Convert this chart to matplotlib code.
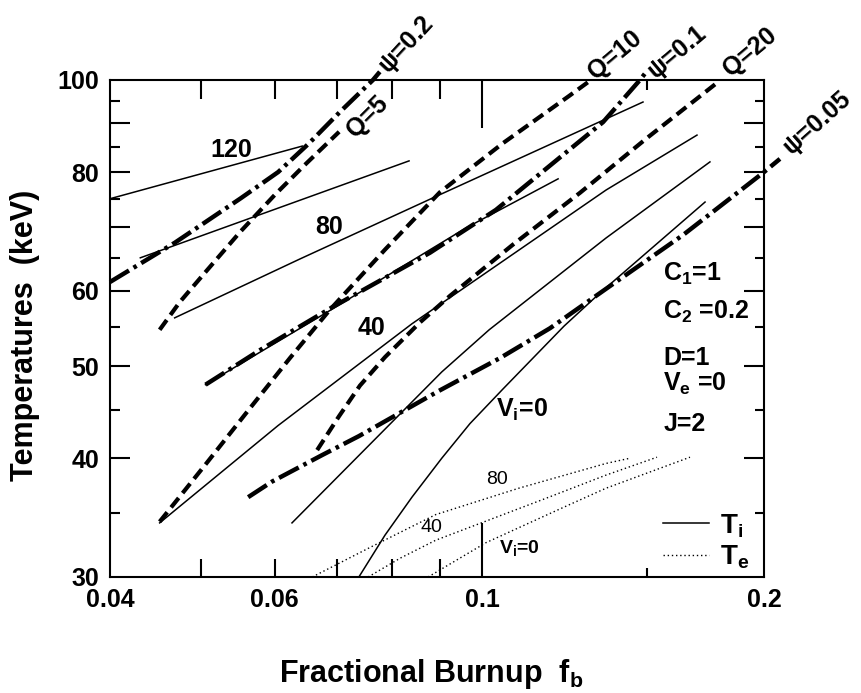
import matplotlib.pyplot as plt

plt.rcParams['font.family'] = ['Liberation Sans', 'DejaVu Sans']
plt.rcParams['font.weight'] = 'bold'
plt.rcParams['axes.labelweight'] = 'bold'
plt.rcParams['mathtext.fontset'] = 'custom'
plt.rcParams['mathtext.rm'] = 'Liberation Sans:bold'
plt.rcParams['mathtext.bf'] = 'Liberation Sans:bold'
plt.rcParams['mathtext.it'] = 'Liberation Sans:bold'
plt.rcParams['mathtext.default'] = 'bf'

# ion temperature T_i, one curve per V_i
ti120_fb = [0.0400, 0.0642]
ti120_t = [75.0, 85.2]
ti100_fb = [0.0431, 0.0835]
ti100_t = [65.0, 82.2]
ti80_fb = [0.0469, 0.0638, 0.0905, 0.1485]
ti80_t = [56.2, 64.8, 75.9, 94.8]
ti60_fb = [0.0506, 0.0687, 0.0961, 0.1205]
ti60_t = [47.8, 57.2, 69.9, 78.7]
ti40_fb = [0.0452, 0.0605, 0.0841, 0.1356, 0.1696]
ti40_t = [34.2, 43.3, 55.4, 76.6, 87.5]
ti20_fb = [0.0626, 0.0905, 0.1017, 0.1356, 0.1751]
ti20_t = [34.2, 49.3, 54.6, 68.2, 82.0]
ti0_fb = [0.0738, 0.0787, 0.0841, 0.0905, 0.0970, 0.1052, 0.1223, 0.1336, 0.1730]
ti0_t = [30.0, 33.2, 36.4, 40.0, 43.5, 47.3, 55.1, 59.7, 74.4]

# electron temperature T_e
te80_fb = [0.0658, 0.0762, 0.0892, 0.1094, 0.1356, 0.1438]
te80_t = [30.0, 32.3, 34.9, 37.2, 39.5, 40.0]
te40_fb = [0.0755, 0.0817, 0.0892, 0.1161, 0.1356, 0.1537]
te40_t = [30.0, 31.4, 32.8, 36.2, 38.4, 40.1]
te0_fb = [0.0875, 0.1009, 0.1220, 0.1356, 0.1667]
te0_t = [30.0, 32.6, 35.5, 37.2, 40.1]

# constant Q
q5_fb = [0.0452, 0.0475, 0.0506, 0.0551, 0.0600, 0.0646, 0.0703]
q5_t = [54.6, 58.4, 62.8, 69.2, 75.7, 81.4, 88.2]
q10_fb = [0.0452, 0.0506, 0.0565, 0.0623, 0.0686, 0.0787, 0.0901, 0.1052, 0.1238, 0.1303]
q10_t = [34.3, 39.4, 45.2, 51.0, 57.2, 66.3, 76.2, 85.8, 96.2, 99.8]
q20_fb = [0.0666, 0.0703, 0.0740, 0.0787, 0.0858, 0.0924, 0.1078, 0.1272, 0.1500, 0.1786]
q20_t = [40.8, 44.3, 47.7, 51.1, 55.6, 59.3, 67.1, 76.1, 86.9, 99.5]

# constant psi
psi02_fb = [0.0400, 0.0469, 0.0552, 0.0605, 0.0653, 0.0704, 0.0764, 0.0777]
psi02_t = [61.3, 67.4, 75.1, 80.0, 85.8, 92.5, 100.0, 102.0]
psi01_fb = [0.0506, 0.0579, 0.0692, 0.0879, 0.1034, 0.1346, 0.1474, 0.1503]
psi01_t = [47.8, 52.0, 57.7, 65.8, 73.0, 90.3, 100.0, 102.5]
psi005_fb = [0.0562, 0.0596, 0.0674, 0.0738, 0.0815, 0.0899, 0.1045, 0.1181,
             0.1356, 0.1639, 0.2000, 0.2080]
psi005_t = [36.4, 37.8, 40.3, 42.2, 44.6, 47.1, 51.0, 54.8, 60.3, 68.7, 80.0, 82.6]

fb_labels = [0.04, 0.06, 0.1, 0.2]
t_labels = [30, 40, 50, 60, 80, 100]
fb_short = [0.05, 0.06, 0.07, 0.08, 0.09]
t_long = [40, 50, 60, 70, 80, 90]
t_short = [35, 45, 55, 65, 75, 85, 95]

fig = plt.figure(figsize=(8.62, 6.93), dpi=100)
ax = fig.add_axes([0.1276, 0.1674, 0.7587, 0.7172])
ax.set_xscale('log')
ax.set_yscale('log')
ax.set_xlim(0.04, 0.2)
ax.set_ylim(30, 100)

thin = dict(color='black', lw=1.1)
dot = dict(color='black', lw=1.0, linestyle=(0, (1, 2)))
dash = dict(color='black', lw=3.0, linestyle=(0, (2.9, 1.5)), clip_on=False)
dashdot = dict(color='black', lw=3.2, linestyle=(0, (5, 1.2, 0.8, 1.2)), clip_on=False)

ti_line, = ax.plot(ti120_fb, ti120_t, **thin)
for fb, t in [(ti100_fb, ti100_t), (ti80_fb, ti80_t), (ti60_fb, ti60_t),
              (ti40_fb, ti40_t), (ti20_fb, ti20_t), (ti0_fb, ti0_t)]:
    ax.plot(fb, t, **thin)

te_line, = ax.plot(te80_fb, te80_t, **dot)
ax.plot(te40_fb, te40_t, **dot)
ax.plot(te0_fb, te0_t, **dot)

for fb, t in [(q5_fb, q5_t), (q10_fb, q10_t), (q20_fb, q20_t)]:
    ax.plot(fb, t, **dash)
for fb, t in [(psi02_fb, psi02_t), (psi01_fb, psi01_t), (psi005_fb, psi005_t)]:
    ax.plot(fb, t, **dashdot)

# axes, ticks drawn by hand (different lengths)
ax.set_xticks(fb_labels)
ax.set_xticklabels(['0.04', '0.06', '0.1', '0.2'])
ax.set_xticks([], minor=True)
ax.set_yticks(t_labels)
ax.set_yticklabels([str(v) for v in t_labels])
ax.set_yticks([], minor=True)
ax.tick_params(length=0, labelsize=18, pad=8)
for s in ax.spines.values():
    s.set_linewidth(1.5)

xt = ax.get_xaxis_transform()
yt = ax.get_yaxis_transform()
tk = dict(color='black', lw=1.5)
ax.vlines(fb_short, 0, 0.036, transform=xt, **tk)
ax.vlines(fb_short, 1 - 0.038, 1, transform=xt, **tk)
ax.vlines([0.1], 0, 0.109, transform=xt, **tk)
ax.vlines([0.1], 1 - 0.097, 1, transform=xt, **tk)
ax.vlines([0.15], 0, 0.019, transform=xt, **tk)
ax.vlines([0.15], 1 - 0.02, 1, transform=xt, **tk)
ax.hlines(t_long, 0, 0.031, transform=yt, **tk)
ax.hlines(t_long, 1 - 0.03, 1, transform=yt, **tk)
ax.hlines(t_short, 0, 0.015, transform=yt, **tk)
ax.hlines(t_short, 1 - 0.014, 1, transform=yt, **tk)

ax.set_xlabel('Fractional Burnup  f$_b$', fontsize=22)
ax.xaxis.set_label_coords(0.491, -0.160)
ax.set_ylabel('Temperatures  (keV)', fontsize=22)
ax.yaxis.set_label_coords(-0.107, 0.487)

# curve labels
ax.text(0.0539, 84.4, '120', ha='center', va='center', fontsize=18)
ax.text(0.0686, 70.0, '80', ha='center', va='center', fontsize=18)
ax.text(0.0762, 54.8, '40', ha='center', va='center', fontsize=18)
ax.text(0.1034, 45.0, 'V$_i$=0', ha='left', va='center', fontsize=18)
ax.text(0.1037, 37.95, '80', ha='center', va='center', fontsize=14, fontweight='normal')
ax.text(0.0883, 33.8, '40', ha='center', va='center', fontsize=14, fontweight='normal')
ax.text(0.1042, 32.2, 'V$_i$=0', ha='left', va='center', fontsize=14)

rot = dict(ha='center', va='center', rotation_mode='anchor', fontsize=18)
ax.text(0.0829, 109.1, 'ψ=0.2', rotation=47, **rot)
ax.text(0.0753, 91.4, 'Q=5', rotation=45, **rot)
ax.text(0.1386, 106.2, 'Q=10', rotation=40, **rot)
ax.text(0.1615, 107.0, 'ψ=0.1', rotation=40, **rot)
ax.text(0.1932, 107.0, 'Q=20', rotation=40, **rot)
ax.text(0.2279, 90.1, 'ψ=0.05', rotation=42, **rot)

# parameters
params = ['C$_1$=1', 'C$_2$ =0.2', 'D=1', 'V$_e$ =0', 'J=2']
params_y = [0.610, 0.533, 0.440, 0.388, 0.308]
for s, yy in zip(params, params_y):
    ax.text(0.846, yy, s, transform=ax.transAxes, ha='left', va='center', fontsize=18)

ax.legend([ti_line, te_line], ['T$_i$', 'T$_e$'], loc='lower left',
          bbox_to_anchor=(0.82, -0.022), frameon=False, handlelength=1.65,
          handletextpad=0.4, labelspacing=0.15, fontsize=20, borderaxespad=0.2)

fig.savefig('out.png', dpi=100)
